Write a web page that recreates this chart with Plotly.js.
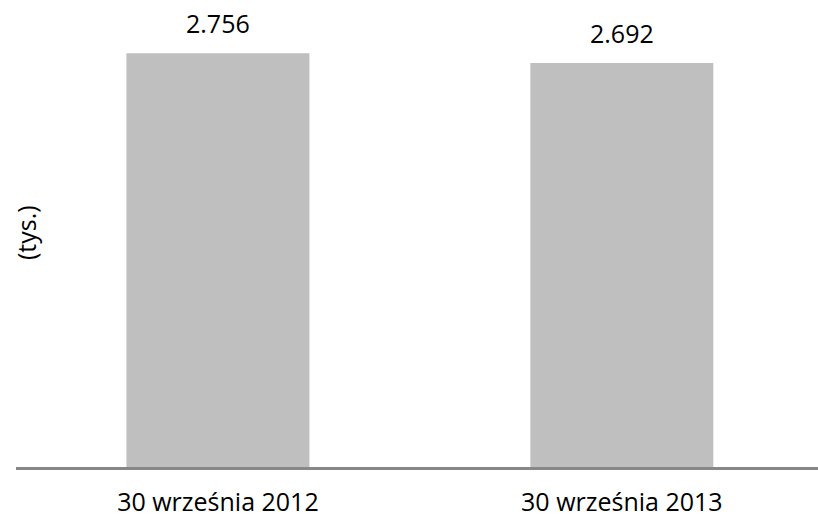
<!DOCTYPE html>
<html>
<head>
<meta charset="utf-8">
<script src="https://cdn.plot.ly/plotly-3.0.1.min.js"></script>
<style>html,body{margin:0;padding:0;background:#fff;}#chart{width:818px;height:518px;}</style>
</head>
<body>
<div id="chart"></div>
<script>
var categories = ["30 września 2012", "30 września 2013"];
var values = [2.756, 2.692];
var valueLabels = ["2.756", "2.692"];
var yTitle = "(tys.)";

var FONT = "Open Sans, sans-serif";

var annotations = categories.map(function (c, i) {
  return {
    x: c, y: values[i], xref: "x", yref: "y",
    text: valueLabels[i], showarrow: false,
    yanchor: "bottom", yshift: 11,
    font: {family: FONT, size: 25, color: "#000"}
  };
});
annotations.push({
  xref: "paper", yref: "paper", x: 0.0125, y: 0.5235,
  text: yTitle, showarrow: false, textangle: -90,
  xanchor: "center", yanchor: "middle",
  font: {family: FONT, size: 25, color: "#000"}
});

var trace = {
  type: "bar",
  x: categories,
  y: values,
  width: 0.453,
  marker: {color: "#bfbfbf"},
  hoverinfo: "none"
};

var layout = {
  width: 818, height: 518,
  margin: {l: 16, r: 0, t: 20, b: 51},
  paper_bgcolor: "#fff", plot_bgcolor: "#fff",
  showlegend: false,
  xaxis: {
    type: "category",
    range: [-0.5, 1.4857],
    showline: true, linecolor: "#878787", linewidth: 2.5,
    ticks: "", showgrid: false, zeroline: false,
    ticklabelstandoff: 11,
    tickfont: {family: FONT, size: 25, color: "#000"}
  },
  yaxis: {
    range: [0, 2.978],
    showticklabels: false, showgrid: false, zeroline: false,
    showline: false, ticks: ""
  },
  annotations: annotations
};

Plotly.newPlot("chart", [trace], layout, {staticPlot: true, displayModeBar: false});
</script>
</body>
</html>
